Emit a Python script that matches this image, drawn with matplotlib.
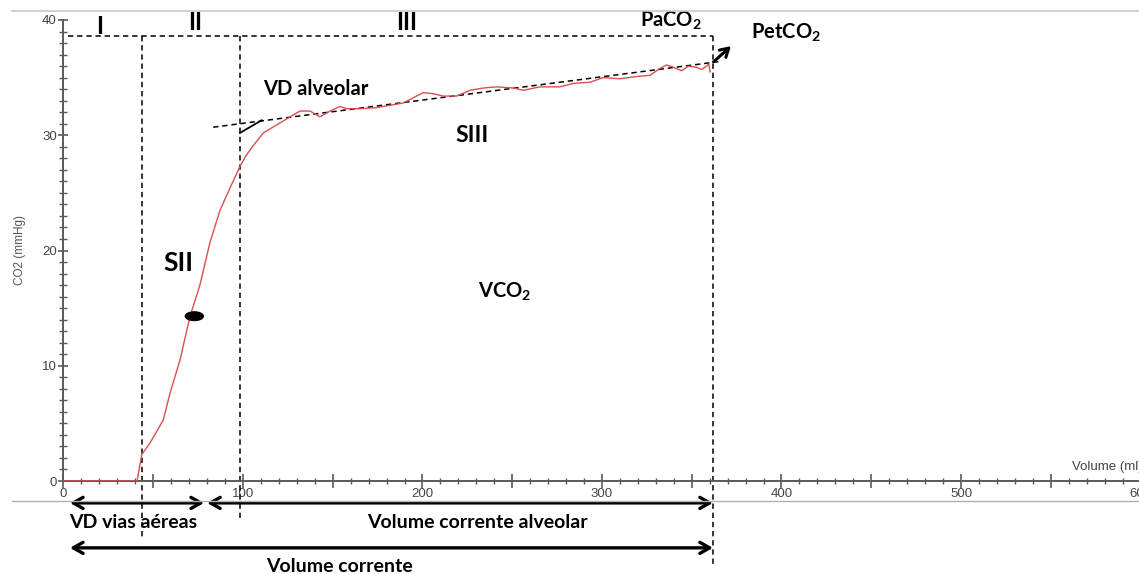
import matplotlib
matplotlib.use("Agg")
import matplotlib.pyplot as plt
from matplotlib.ticker import MultipleLocator, FuncFormatter
from matplotlib.lines import Line2D
from matplotlib.patches import Ellipse

# capnogram: expired volume (ml) vs CO2 (mmHg)
volume = [0, 41, 43.6, 48.2, 55.6, 59.3, 64.9, 70.5, 76, 81.6, 87.2, 92.7,
          98.3, 102, 105.7, 111.3, 118.8, 126.2, 131.8, 137.3, 142.9, 148.5,
          154, 157.8, 165.2, 174.5, 181.9, 189.3, 200.4, 206, 211.6, 219,
          226.5, 233.9, 241.3, 250.6, 256.2, 265.5, 276.6, 284, 293.3, 300.7,
          310, 319.3, 326.7, 332.3, 336, 339.7, 344.4, 348.1, 352.7, 355.5,
          358.3, 359.5, 360.2]
co2 = [0, 0, 2.3, 3.3, 5.3, 7.6, 10.5, 14.3, 17.0, 20.7, 23.5, 25.4,
       27.3, 28.3, 29.1, 30.2, 30.9, 31.6, 32.1, 32.1, 31.6, 32.1,
       32.5, 32.3, 32.3, 32.4, 32.6, 32.8, 33.7, 33.6, 33.4, 33.4,
       33.9, 34.1, 34.2, 34.1, 33.9, 34.2, 34.2, 34.5, 34.6, 35.0,
       34.9, 35.1, 35.2, 35.8, 36.1, 35.9, 35.6, 36.0, 35.9, 35.7,
       36.0, 36.2, 35.5]

phase_edges = [43.5, 98.3, 361.8]      # ml
phase_bottoms = [-5.1, -3.4, -7.5]     # how far the dashed lines run down
paco2 = 38.6
phase_names = ["I", "II", "III"]
phase_label_x = [20.3, 73.3, 191.4]
phase_label_y = [39.4, 39.8, 39.8]

slope3_x = [83.4, 365.7]
slope3_y = [30.7, 36.4]
tangent_x = [98.3, 110.4]
tangent_y = [30.2, 31.3]
petco2_from = (361, 36.2)
petco2_to = (373, 37.9)
mid_point = (72.9, 14.3)

# volume spans drawn under the axis
spans = [(3.6, 78.3, -1.9), (80.0, 361.8, -1.9), (3.6, 361.8, -5.8)]

plt.rcParams["font.family"] = ["Liberation Sans", "DejaVu Sans"]
plt.rcParams["mathtext.fontset"] = "custom"
plt.rcParams["mathtext.rm"] = "Lato:bold"
plt.rcParams["mathtext.default"] = "rm"

W, H = 1139, 574
fig = plt.figure(figsize=(W / 100, H / 100), dpi=100)
x0, y0 = 63.5, 481
xscale = 1.795   # px per ml
x_end = 601
ax = fig.add_axes([x0 / W, (H - y0) / H, x_end * xscale / W, (y0 - 20) / H])
ax.set_xlim(0, x_end)
ax.set_ylim(0, 40)

grey = "#5a5a5a"
for s in ["top", "right"]:
    ax.spines[s].set_visible(False)
for s in ["left", "bottom"]:
    ax.spines[s].set_color(grey)
    ax.spines[s].set_linewidth(1.4)

ax.xaxis.set_major_locator(MultipleLocator(50))
ax.xaxis.set_minor_locator(MultipleLocator(10))
ax.xaxis.set_major_formatter(FuncFormatter(lambda v, p: f"{int(v)}" if v % 100 == 0 else ""))
ax.yaxis.set_major_locator(MultipleLocator(10))
ax.yaxis.set_minor_locator(MultipleLocator(1))
ax.tick_params(axis="x", which="major", direction="inout", length=10, width=1.2,
               color=grey, labelcolor="#444444", labelsize=9.5, pad=0)
ax.tick_params(axis="x", which="minor", direction="inout", length=5, width=1.0, color=grey)
ax.tick_params(axis="y", which="major", direction="inout", length=7.5, width=1.2,
               color=grey, labelcolor="#444444", labelsize=9.5, pad=1)
ax.tick_params(axis="y", which="minor", direction="inout", length=5.5, width=1.0, color=grey)

fig.text(20 / W, 1 - 250 / H, "CO2 (mmHg)", rotation=90, ha="center", va="center",
         fontsize=8.5, color="#555555")
ax.text(561.8, 1.2, "Volume (ml)", ha="left", va="center", fontsize=9.5, color="#444444",
        clip_on=False)

# frame lines of the original window
fig.add_artist(Line2D([12 / W, 1], [1 - 11 / H] * 2, color="#c8c8c8", lw=1.2))
fig.add_artist(Line2D([12 / W, 1], [1 - 501 / H] * 2, color="#b0b0b0", lw=1.0))

# the curve
ax.plot(volume, co2, color="#d9504f", lw=1.0, zorder=3)

dash = dict(color="black", lw=1.1, linestyle=(0, (3.5, 2.5)), clip_on=False)
ax.plot([2.5, phase_edges[-1]], [paco2, paco2], **dash)
for xe, yb in zip(phase_edges, phase_bottoms):
    ax.plot([xe, xe], [paco2, yb], **dash)
ax.plot(slope3_x, slope3_y, **dash)
ax.plot(tangent_x, tangent_y, color="black", lw=1.3)
ax.annotate("", xy=petco2_to, xytext=petco2_from,
            arrowprops=dict(arrowstyle="->,head_length=0.6,head_width=0.35", lw=2.2, color="black"),
            annotation_clip=False)
ax.add_patch(Ellipse(mid_point, 10, 0.75, color="black", zorder=4))

for xa, xb, yy in spans:
    ax.annotate("", xy=(xb, yy), xytext=(xa, yy),
                arrowprops=dict(arrowstyle="<->,head_length=0.7,head_width=0.4",
                                lw=2.4, color="black", shrinkA=0, shrinkB=0),
                annotation_clip=False)

bold = dict(family=["Lato", "DejaVu Sans"], fontweight="bold", color="black",
            ha="center", va="center", clip_on=False)
for name, lx, ly in zip(phase_names, phase_label_x, phase_label_y):
    ax.text(lx, ly, name, fontsize=17, **bold)

ax.text(338.2, 39.9, "PaCO$_2$", fontsize=14.5, **bold)
ax.text(402.5, 38.9, "PetCO$_2$", fontsize=14.5, **bold)
ax.text(140.6, 34.0, "VD alveolar", fontsize=14.5, **bold)
ax.text(227.5, 30.0, "SIII", fontsize=16.5, **bold)
ax.text(63.8, 18.9, "SII", fontsize=19, **bold)
ax.text(245.9, 16.4, "VCO$_2$", fontsize=14.5, **bold)
ax.text(38.7, -3.6, "VD vias aéreas", fontsize=14, **bold)
ax.text(230.4, -3.6, "Volume corrente alveolar", fontsize=14, **bold)
ax.text(154.0, -7.4, "Volume corrente", fontsize=14, **bold)

fig.savefig("out.png", dpi=100)
